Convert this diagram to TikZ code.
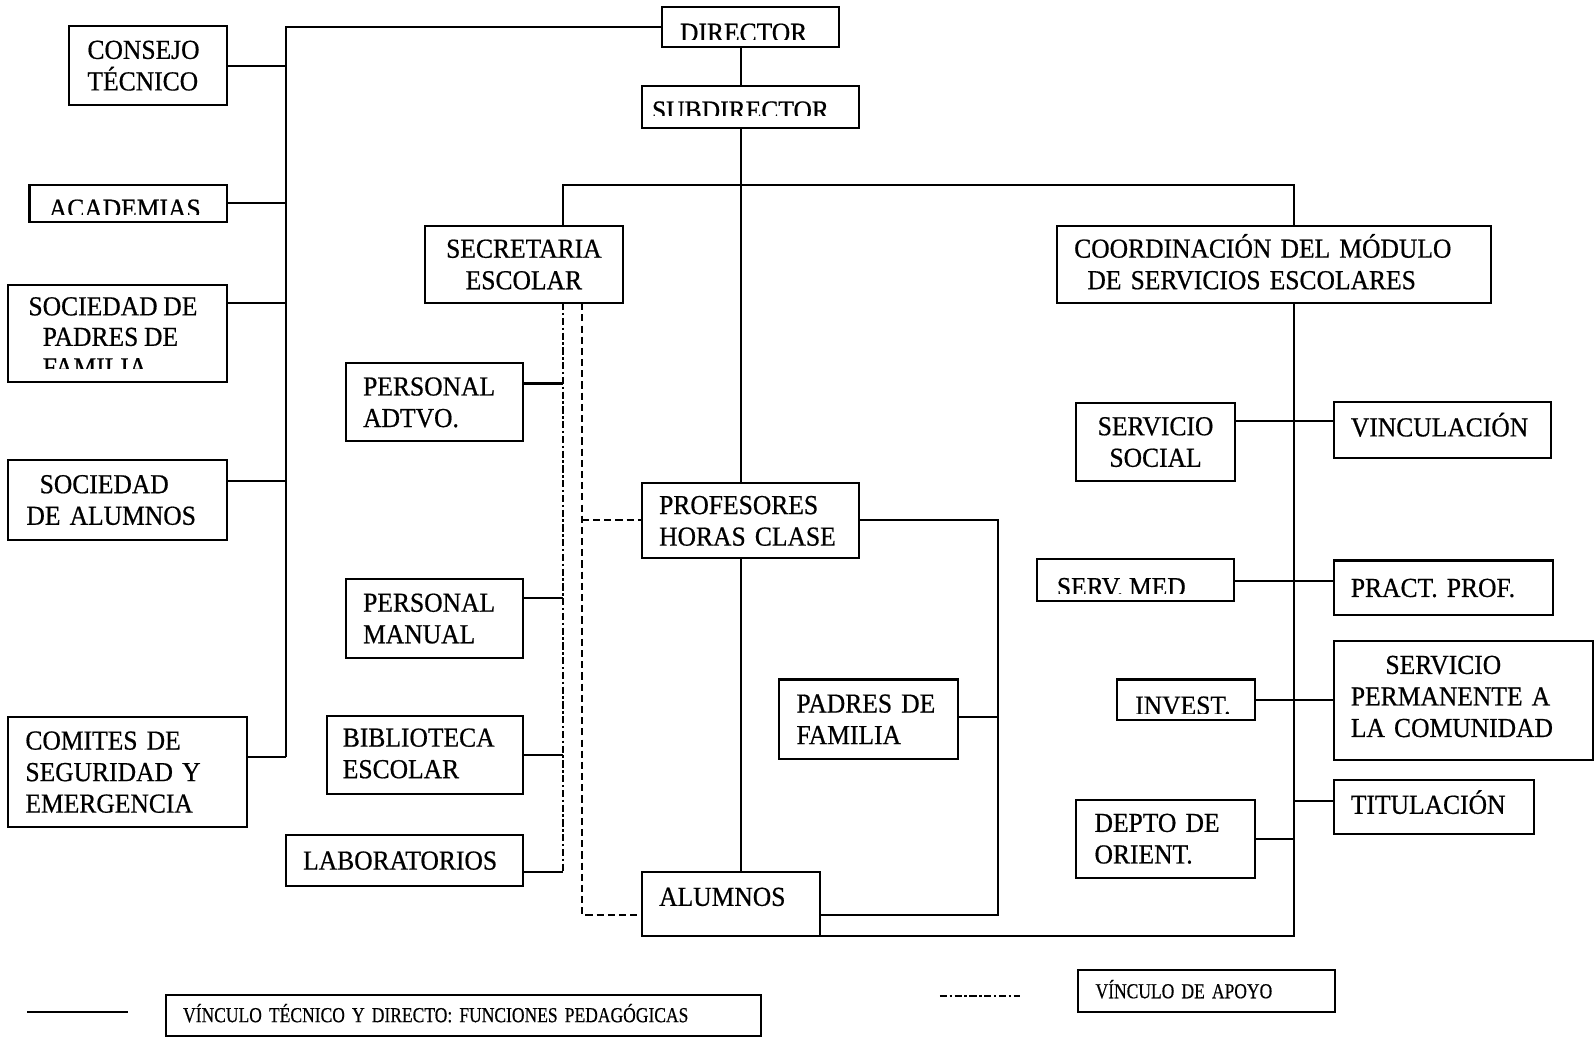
\documentclass[tikz,border=0pt]{standalone}
\usepackage{fontspec}
\setmainfont{Liberation Serif}[FakeStretch=0.93, FakeBold=0.6, WordSpace=0.9]
\newfontfamily\legfont{Liberation Serif}[FakeStretch=0.82, FakeBold=0.5, WordSpace=0.75]
\newcommand\ppclip[1]{\clip ([yshift=#1]path picture bounding box.south west) rectangle (path picture bounding box.north east);}
\newcommand\ppline[3]{\node[anchor=base west, inner sep=0pt, draw=none, minimum width=0pt, minimum height=0pt] at ([xshift=#1,yshift=#2]path picture bounding box.south west) {#3};}
\begin{document}
\begin{tikzpicture}[x=1pt,y=-1pt,
  every node/.style={font=\fontsize{27}{31}\selectfont},
  box/.style={draw, line width=2pt, inner ysep=0pt, outer sep=0pt, align=left, anchor=north west, text height=18pt},
  cutbox/.style={draw, line width=2pt, inner sep=0pt, outer sep=0pt, anchor=north west},
  legbox/.style={font=\legfont\fontsize{21}{24}\selectfont, text height=14pt},
  conn/.style={line width=2pt},
  ddash/.style={line width=2pt, dash pattern=on 7pt off 2.5pt on 2.5pt off 2.5pt},
  sdash/.style={line width=1.9pt, dash pattern=on 7pt off 4pt}]
\fill[white] (0,0) rectangle (1568,1020.4);
\useasboundingbox (0,0) rectangle (1568,1020.4);

% ---------- left column
\node[box, text width=119pt, inner xsep=18pt, minimum height=77pt] (consejo) at (68,26) {CONSEJO\\TÉCNICO};
\node[cutbox, minimum width=194pt, minimum height=36pt, path picture={\ppclip{7pt}\ppline{19pt}{4pt}{ACADEMIAS}}] (acad) at (29,182) {};
\node[cutbox, minimum width=215pt, minimum height=96pt, path picture={\ppclip{14pt}\ppline{20pt}{66pt}{SOCIEDAD DE}\ppline{34pt}{36pt}{PADRES DE}\ppline{34pt}{6pt}{FAMILIA}}] (spadres) at (8,280) {};
\node[box, text width=179pt, inner xsep=18pt, minimum height=79pt] (salumnos) at (8,452) {\hspace*{13pt}SOCIEDAD\\DE ALUMNOS};
\node[box, text width=201pt, inner xsep=17pt, minimum height=108pt] (comites) at (8,705) {COMITES DE\\SEGURIDAD Y\\EMERGENCIA};

% ---------- top centre
\node[cutbox, minimum width=174pt, minimum height=39pt, path picture={\ppclip{7pt}\ppline{17.5pt}{5pt}{DIRECTOR}}] (dir) at (651,7) {};
\node[cutbox, minimum width=213pt, minimum height=41pt, path picture={\ppclip{12pt}\ppline{10pt}{8.5pt}{SUBDIRECTOR}}] (sub) at (631,85) {};
\node[box, align=center, text width=178pt, inner xsep=8pt, minimum height=76pt] (secret) at (418,222) {SECRETARIA\\ESCOLAR};
\node[box, text width=393pt, inner xsep=17pt, minimum height=76pt] (coord) at (1039,222) {COORDINACIÓN DEL MÓDULO\\\hspace*{13pt}DE SERVICIOS ESCOLARES};

% ---------- secretaria branch
\node[box, text width=140pt, inner xsep=17pt, minimum height=77pt] (padm) at (340,357) {PERSONAL\\ADTVO.};
\node[box, text width=140pt, inner xsep=17pt, minimum height=78pt] (pman) at (340,569) {PERSONAL\\MANUAL};
\node[box, text width=161pt, inner xsep=16pt, minimum height=77pt, text depth=35pt] (biblio) at (321,704) {BIBLIOTECA\\ESCOLAR};
\node[box, text width=199pt, inner xsep=17pt, minimum height=50pt] (labs) at (281,821) {LABORATORIOS};

% ---------- middle
\node[box, text width=179pt, inner xsep=17pt, minimum height=74pt] (prof) at (631,475) {PROFESORES\\HORAS CLASE};
\node[box, text width=142pt, inner xsep=17pt, minimum height=78pt] (padres) at (766,668) {PADRES DE\\FAMILIA};
\node[box, text width=141pt, inner xsep=17pt, minimum height=63pt, text depth=14pt] (alum) at (631,857) {ALUMNOS};

% ---------- right
\node[box, align=center, text width=140pt, inner xsep=8pt, minimum height=77pt] (ssocial) at (1058,396) {SERVICIO\\SOCIAL};
\node[box, text width=180pt, inner xsep=17pt, minimum height=55pt, text depth=5pt] (vinc) at (1311,395) {VINCULACIÓN};
\node[cutbox, minimum width=194pt, minimum height=41pt, path picture={\ppclip{8pt}\ppline{20pt}{5pt}{SERV. MED}}] (smed) at (1019,550) {};
\node[box, text width=182pt, inner xsep=17pt, minimum height=54pt] (pract) at (1311,551) {PRACT. PROF.};
\node[cutbox, minimum width=136pt, minimum height=40pt, path picture={\ppclip{7pt}\ppline{18pt}{5.5pt}{INVEST.}}] (invest) at (1098,668) {};
\node[box, text width=221pt, inner xsep=17pt, minimum height=117pt, text depth=70pt] (sperm) at (1311,630) {\hspace*{34pt}SERVICIO\\PERMANENTE A\\LA COMUNIDAD};
\node[box, text width=163pt, inner xsep=17pt, minimum height=53pt, text depth=5pt] (titul) at (1311,767) {TITULACIÓN};
\node[box, text width=140pt, inner xsep=18pt, minimum height=77pt] (depto) at (1058,786) {DEPTO DE\\ORIENT.};

% ---------- legend
\node[box, legbox, text width=551pt, inner xsep=17pt, minimum height=40pt] (leg1) at (163,978) {VÍNCULO TÉCNICO Y DIRECTO: FUNCIONES PEDAGÓGICAS};
\node[box, legbox, text width=218pt, inner xsep=17pt, minimum height=41pt] (leg2) at (1060,954) {VÍNCULO DE APOYO};

% ---------- helper coordinates
\coordinate (trunk) at (281,744);
\coordinate (spine) at (728,0);
\coordinate (barL) at (553,182);
\coordinate (barR) at (1272,182);
\coordinate (cbot) at (1272,920);
\coordinate (pjTop) at (981,511);
\coordinate (pjBot) at (981,899.5);
\coordinate (dd) at (553,857);
\coordinate (ds) at (572,899.5);
\coordinate (ySp) at (0,298);
\coordinate (ySa) at (0,472.5);
\coordinate (ySS) at (0,414);
\coordinate (yMed) at (0,571);
\coordinate (yInv) at (0,688);
\coordinate (yTit) at (0,787);
\coordinate (yDep) at (0,824.5);
\coordinate (yPad) at (0,705);
\coordinate (yAdm) at (0,377);
\coordinate (yMan) at (0,588);
\coordinate (yBib) at (0,742);
\coordinate (l1a) at (27,995);
\coordinate (l1b) at (126,995);
\coordinate (l2a) at (924,979);
\coordinate (l2b) at (1003,979);

% ---------- connectors
\draw[conn] (dir.west) -| (trunk);
\draw[conn] (consejo.east) -- (consejo.east -| trunk);
\draw[conn] (acad.east) -- (acad.east -| trunk);
\draw[conn] (spadres.east |- ySp) -- (trunk |- ySp);
\draw[conn] (salumnos.east |- ySa) -- (trunk |- ySa);
\draw[conn] (comites.east |- trunk) -- (trunk);
\draw[conn] (dir.south -| spine) -- (sub.north -| spine);
\draw[conn] (sub.south -| spine) -- (prof.north -| spine);
\draw[conn] (prof.south -| spine) -- (alum.north -| spine);
\draw[conn] (secret.north -| barL) -- (barL) -- (barR) -- (coord.north -| barR);
\draw[conn] (coord.south -| cbot) -- (cbot) -- (alum.south east);
\draw[conn] (ssocial.east |- ySS) -- (vinc.west |- ySS);
\draw[conn] (smed.east |- yMed) -- (pract.west |- yMed);
\draw[conn] (invest.east |- yInv) -- (sperm.west |- yInv);
\draw[conn] (cbot |- yTit) -- (titul.west |- yTit);
\draw[conn] (depto.east |- yDep) -- (cbot |- yDep);
\draw[conn] (prof.east |- pjTop) -- (pjTop) -- (pjBot) -- (alum.east |- pjBot);
\draw[conn] (padres.east |- yPad) -- (pjTop |- yPad);

\draw[ddash] (secret.south -| dd) -- (dd);
\draw[conn] (padm.east |- yAdm) -- (dd |- yAdm);
\draw[conn] (pman.east |- yMan) -- (dd |- yMan);
\draw[conn] (biblio.east |- yBib) -- (dd |- yBib);
\draw[conn] (labs.east |- dd) -- (dd);
\draw[sdash] (secret.south -| ds) -- (ds) -- (alum.west |- ds);
\draw[sdash] (ds |- pjTop) -- (prof.west |- pjTop);

% ---------- legend lines
\draw[conn] (l1a) -- (l1b);
\draw[ddash] (l2a) -- (l2b);
\end{tikzpicture}
\end{document}
